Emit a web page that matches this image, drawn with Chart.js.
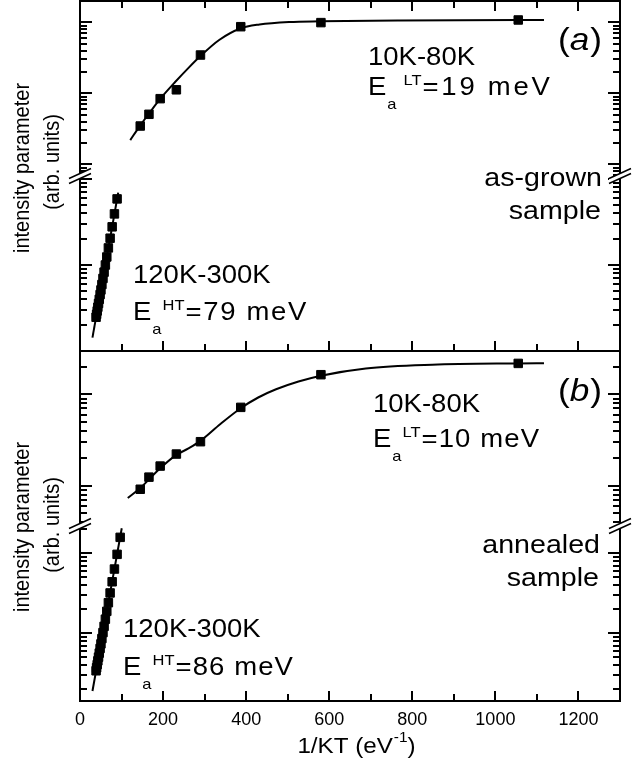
<!DOCTYPE html>
<html>
<head>
<meta charset="utf-8">
<script src="https://cdn.jsdelivr.net/npm/chart.js@4"></script>
<style>
html, body { margin: 0; padding: 0; background: #fff; }
</style>
</head>
<body>
<canvas id="plChart" width="639" height="778"></canvas>
<script>
// 1/kT (eV^-1) of the low temperature points, 80K ... 11K
const ltX = [145, 166, 193, 232, 290, 387, 580, 1055];
// 1/kT of the high temperature points, 130K/120K ... 300K in 10K steps
const htXa = [89.3, 82.9, 77.4, 72.5, 68.3, 64.5, 61.1, 58.0, 55.3, 52.7, 50.4, 48.4, 46.4, 44.6, 43.0, 41.4, 40.0, 38.7];
const htXb = [96.7, 89.3, 82.9, 77.4, 72.5, 68.3, 64.5, 61.1, 58.0, 55.3, 52.7, 50.4, 48.4, 46.4, 44.6, 43.0, 41.4, 40.0, 38.7];

// (a) as-grown
const aLtY = [3.46, 5.06, 8.40, 11.2, 34.6, 86.7, 99, 107.8];
const aLtFitX = [121, 143, 167, 193, 229, 263, 290, 335, 386, 432, 504, 578, 769, 1055, 1117];
const aLtFitY = [2.19, 3.40, 5.27, 8.32, 14.4, 23.4, 33.5, 56.4, 81.8, 93.1, 101, 103.3, 106, 107.7, 107.7];
const aHtY = [58.7, 39.3, 27.8, 20.5, 15.8, 12.4, 10.0, 8.26, 6.98, 5.93, 5.13, 4.53, 3.99, 3.57, 3.23, 2.92, 2.67, 2.47];
const aHtFitX = [30, 92];
const aHtFitY = [1.43, 69.5];

// (b) annealed
const bLtY = [0.914, 1.24, 1.64, 2.22, 3.03, 7.2, 16.4, 21.8];
const bLtFitX = [115, 143, 193, 231, 260, 290, 338, 386, 429, 472, 526, 580, 688, 848, 1055, 1117];
const bLtFitY = [0.733, 0.923, 1.55, 2.16, 2.54, 3.09, 4.73, 7.00, 9.23, 11.35, 13.8, 16.0, 19.2, 21.1, 21.8, 21.9];
const bHtY = [15.8, 9.69, 6.35, 4.40, 3.19, 2.41, 1.88, 1.50, 1.22, 1.02, 0.859, 0.737, 0.646, 0.565, 0.503, 0.452, 0.406, 0.371, 0.340];
const bHtFitX = [30, 100.5];
const bHtFitY = [0.19, 20.5];

// y ranges of the four pieces of the broken axes, top to bottom
const segIds = ['yA1', 'yA2', 'yB1', 'yB2'];
const segMin = [0.684, 1.0, 0.362, 0.1425];
const segMax = [199.5, 108.4, 29.8, 21.9];

const xMin = 0, xMax = 1300, xStep = 200;

const SX = 1.1; // the scan is a little wider than tall
const FONT = '"Liberation Sans", Arial, sans-serif';

function pts(xs, ys) {
    return xs.map((x, i) => ({ x: x, y: ys[i] }));
}

function sText(ctx, s, x, y, size, align, italic, spacing) {
    ctx.save();
    ctx.font = (italic ? 'italic ' : '') + size + 'px ' + FONT;
    ctx.letterSpacing = (spacing || 0) + 'px';
    const w = ctx.measureText(s).width * SX;
    ctx.translate(x, y);
    ctx.scale(SX, 1);
    ctx.textAlign = align || 'left';
    ctx.textBaseline = 'alphabetic';
    ctx.fillStyle = '#000';
    ctx.fillText(s, 0, 0);
    ctx.restore();
    return w;
}

function eLabel(ctx, x, y, sup, rest, supGap, spacing) {
    const we = sText(ctx, 'E', x, y, 25);
    const wa = sText(ctx, 'a', x + we + 1, y + 14, 15);
    const ws = sText(ctx, sup, x + we + wa + supGap, y - 10, 15);
    sText(ctx, rest, x + we + wa + supGap + ws + 1, y, 25, 'left', false, spacing);
}

function vText(ctx, s, x, y, size) {
    ctx.save();
    ctx.translate(x, y);
    ctx.scale(SX, 1);
    ctx.rotate(-Math.PI / 2);
    ctx.font = size + 'px ' + FONT;
    ctx.textAlign = 'center';
    ctx.textBaseline = 'middle';
    ctx.fillStyle = '#000';
    ctx.fillText(s, 0, 0);
    ctx.restore();
}

function line(ctx, x1, y1, x2, y2) {
    ctx.beginPath();
    ctx.moveTo(x1, y1);
    ctx.lineTo(x2, y2);
    ctx.stroke();
}

const frame = {
    id: 'frame',
    afterDraw(chart) {
        const ctx = chart.ctx;
        const a = chart.chartArea;
        const xs = chart.scales.x;
        const mid = chart.scales.yA2.bottom;
        ctx.save();
        ctx.setLineDash([]);
        ctx.strokeStyle = '#000';
        ctx.lineWidth = 2;

        // y ticks, left and right, on every piece of the axes
        segIds.forEach(id => {
            const s = chart.scales[id];
            const e0 = Math.floor(Math.log10(s.min)), e1 = Math.ceil(Math.log10(s.max));
            for (let e = e0; e <= e1; e++) {
                for (let k = 1; k < 10; k++) {
                    const v = k * Math.pow(10, e);
                    if (v < s.min || v > s.max) continue;
                    const y = Math.round(s.getPixelForValue(v));
                    const len = k === 1 ? 12 : 7;
                    ctx.fillStyle = '#000';
                    ctx.fillRect(a.left, y - 1, len, 2);
                    ctx.fillRect(a.right - len, y - 1, len, 2);
                }
            }
        });

        // x ticks on bottom, top and between the panels
        for (let v = xMin; v <= xMax; v += xStep / 2) {
            const x = Math.round(xs.getPixelForValue(v));
            const len = v % xStep === 0 ? 10 : 7;
            ctx.fillStyle = '#000';
            ctx.fillRect(x - 1, a.bottom - len, 2, len);
            ctx.fillRect(x - 1, a.top, 2, len);
            ctx.fillRect(x - 1, mid - len, 2, len);
        }

        // frame and separator
        ctx.strokeRect(a.left, a.top, a.right - a.left, a.bottom - a.top);
        line(ctx, a.left, mid, a.right, mid);

        // axis break marks
        [chart.scales.yA1.bottom, chart.scales.yB1.bottom].forEach(yb => {
            [a.left, a.right].forEach(xb => {
                ctx.fillStyle = '#fff';
                ctx.beginPath();
                ctx.moveTo(xb - 11, yb + 2.5); ctx.lineTo(xb + 11, yb - 7.5);
                ctx.lineTo(xb + 11, yb - 2.5); ctx.lineTo(xb - 11, yb + 7.5);
                ctx.closePath();
                ctx.fill();
                ctx.lineWidth = 1.5;
                line(ctx, xb - 11, yb + 2.5, xb + 11, yb - 7.5);
                line(ctx, xb - 11, yb + 7.5, xb + 11, yb - 2.5);
            });
        });

        // labels, panel (a)
        sText(ctx, '10K-80K', 368, 65, 25);
        eLabel(ctx, 368, 95, 'LT', '=19 meV', 8, 2.5);
        let w = sText(ctx, '(', 558, 50, 32);
        w += sText(ctx, 'a', 558 + w, 50, 32, 'left', true);
        sText(ctx, ')', 558 + w + 1, 50, 32);
        sText(ctx, 'as-grown', 602, 186, 26, 'right');
        sText(ctx, 'sample', 601, 219, 26, 'right');
        sText(ctx, '120K-300K', 133, 283, 25);
        eLabel(ctx, 133, 320, 'HT', '=79 meV', 2, 1.5);

        // labels, panel (b)
        sText(ctx, '10K-80K', 373, 412, 25);
        eLabel(ctx, 373, 447, 'LT', '=10 meV', 2, 1);
        w = sText(ctx, '(', 558, 401, 32);
        w += sText(ctx, 'b', 558 + w, 401, 32, 'left', true);
        sText(ctx, ')', 558 + w + 1, 401, 32);
        sText(ctx, 'annealed', 600, 553, 26, 'right');
        sText(ctx, 'sample', 599, 586, 26, 'right');
        sText(ctx, '120K-300K', 123, 637, 25);
        eLabel(ctx, 123, 675, 'HT', '=86 meV', 2, 1);

        // axis titles
        vText(ctx, 'intensity parameter', 23, 168, 20);
        vText(ctx, '(arb. units)', 53, 162, 20);
        vText(ctx, 'intensity parameter', 23, 527, 20);
        vText(ctx, '(arb. units)', 53, 525, 20);

        const t1 = '1/KT (eV', t2 = '-1', t3 = ')';
        ctx.font = '22px ' + FONT;
        const w1 = ctx.measureText(t1).width * SX;
        const w3 = ctx.measureText(t3).width * SX;
        ctx.font = '14px ' + FONT;
        const w2 = ctx.measureText(t2).width * SX;
        let tx = (a.left + a.right) / 2 + 6 - (w1 + w2 + w3) / 2;
        tx += sText(ctx, t1, tx, 753, 22);
        tx += sText(ctx, t2, tx + 1, 742, 14) + 1;
        sText(ctx, t3, tx, 753, 22);
        ctx.restore();
    }
};

function segAxis(i) {
    return {
        type: 'logarithmic',
        position: 'left',
        stack: 'panels',
        stackWeight: 1,
        weight: 4 - i,
        min: segMin[i],
        max: segMax[i],
        ticks: { display: false },
        grid: { display: false, drawTicks: false },
        border: { display: false },
        afterFit: s => { s.width = 80; }
    };
}

const squares = {
    showLine: false,
    pointStyle: 'rect',
    pointRadius: 6,
    pointBackgroundColor: '#000',
    pointBorderColor: '#000',
    pointBorderWidth: 1
};
const fitLine = {
    showLine: true,
    pointRadius: 0,
    borderColor: '#000',
    borderWidth: 2,
    cubicInterpolationMode: 'monotone'
};

const scales = {
    x: {
        type: 'linear',
        min: xMin,
        max: xMax,
        ticks: {
            stepSize: xStep,
            includeBounds: false,
            color: '#000',
            font: { family: FONT, size: 18 },
            padding: 8,
            maxRotation: 0,
            callback: v => String(v)
        },
        grid: { display: false, drawTicks: false },
        border: { display: false },
        afterFit: s => { s.height = 77; }
    }
};
segIds.forEach((id, i) => { scales[id] = segAxis(i); });

new Chart(document.getElementById('plChart'), {
    type: 'scatter',
    data: {
        datasets: [
            Object.assign({ data: pts(ltX, aLtY), yAxisID: 'yA1' }, squares),
            Object.assign({ data: pts(htXa, aHtY), yAxisID: 'yA2' }, squares),
            Object.assign({ data: pts(ltX, bLtY), yAxisID: 'yB1' }, squares),
            Object.assign({ data: pts(htXb, bHtY), yAxisID: 'yB2' }, squares),
            Object.assign({ data: pts(aLtFitX, aLtFitY), yAxisID: 'yA1' }, fitLine),
            Object.assign({ data: pts(aHtFitX, aHtFitY), yAxisID: 'yA2' }, fitLine),
            Object.assign({ data: pts(bLtFitX, bLtFitY), yAxisID: 'yB1' }, fitLine),
            Object.assign({ data: pts(bHtFitX, bHtFitY), yAxisID: 'yB2' }, fitLine)
        ]
    },
    options: {
        responsive: false,
        animation: false,
        layout: { autoPadding: false, padding: { top: 1, right: 19, bottom: 0, left: 0 } },
        plugins: {
            legend: { display: false },
            tooltip: { enabled: false }
        },
        scales: scales
    },
    plugins: [frame]
});
</script>
</body>
</html>
